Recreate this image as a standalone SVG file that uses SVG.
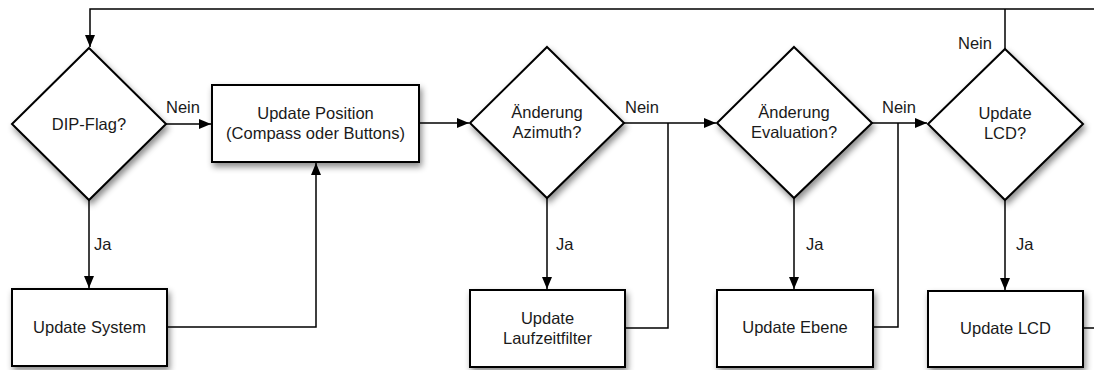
<svg xmlns="http://www.w3.org/2000/svg" width="1094" height="370" viewBox="0 0 1094 370">
  <defs>
    <filter id="shadow" x="-20%" y="-20%" width="150%" height="150%">
      <feDropShadow dx="2" dy="4" stdDeviation="3" flood-color="#000" flood-opacity="0.45"/>
    </filter>
    <marker id="arrow" viewBox="0 0 12 10" refX="12" refY="5" markerWidth="12" markerHeight="10" markerUnits="userSpaceOnUse" orient="auto">
      <path d="M0,0 L12,5 L0,10 Z" fill="#000"/>
    </marker>
  </defs>
  <style>
    .shape { fill: #fff; stroke: #000; stroke-width: 2; filter: url(#shadow); }
    .conn { fill: none; stroke: #000; stroke-width: 1.5; }
    .arr { marker-end: url(#arrow); }
    text { font-family: "Liberation Sans", Arial, sans-serif; font-size: 16.5px; fill: #1a1a1a; }
    .c { text-anchor: middle; }
  </style>
  <rect width="1094" height="370" fill="#fff"/>

  <!-- connectors -->
  <g id="connectors">
    <!-- loop back to start -->
    <path class="conn arr" d="M1094,9 H90 V47"/>
    <path class="conn" d="M1005,49 V9"/>
    <path class="conn" d="M1083,328 H1094"/>
    <!-- DIP-Flag -->
    <path class="conn arr" d="M166,124 H211"/>
    <path class="conn arr" d="M89,200 V288"/>
    <path class="conn arr" d="M167,327 H316 V163"/>
    <!-- Position to Azimuth -->
    <path class="conn arr" d="M419,123 H469"/>
    <!-- Azimuth -->
    <path class="conn arr" d="M624,123 H716"/>
    <path class="conn arr" d="M547,198 V289"/>
    <path class="conn" d="M625,328 H668 V123"/>
    <!-- Evaluation -->
    <path class="conn arr" d="M872,123 H927"/>
    <path class="conn arr" d="M794,198 V289"/>
    <path class="conn" d="M873,327 H898 V123"/>
    <!-- LCD -->
    <path class="conn arr" d="M1005,200 V290"/>
  </g>

  <!-- edge labels -->
  <g id="labels">
    <text x="166" y="113">Nein</text>
    <text x="625" y="113">Nein</text>
    <text x="882" y="113">Nein</text>
    <text x="958" y="49">Nein</text>
    <text x="94" y="250">Ja</text>
    <text x="556" y="250">Ja</text>
    <text x="806" y="250">Ja</text>
    <text x="1016" y="250">Ja</text>
  </g>

  <g id="dip-flag">
    <polygon class="shape" points="89,48 166,124 89,200 12,124"/>
    <text class="c" x="89" y="130">DIP-Flag?</text>
  </g>

  <g id="update-position">
    <rect class="shape" x="212" y="85" width="207" height="77"/>
    <text class="c" x="315.5" y="119">Update Position</text>
    <text class="c" x="315.5" y="139">(Compass oder Buttons)</text>
  </g>

  <g id="aenderung-azimuth">
    <polygon class="shape" points="547,47 624,123 547,198 470,123"/>
    <text class="c" x="547" y="118">Änderung</text>
    <text class="c" x="547" y="138">Azimuth?</text>
  </g>

  <g id="aenderung-evaluation">
    <polygon class="shape" points="794,47 872,123 794,198 717,123"/>
    <text class="c" x="794" y="118">Änderung</text>
    <text class="c" x="794" y="138">Evaluation?</text>
  </g>

  <g id="update-lcd-decision">
    <polygon class="shape" points="1005,49 1083,124 1005,200 928,124"/>
    <text class="c" x="1005" y="119">Update</text>
    <text class="c" x="1005" y="139">LCD?</text>
  </g>

  <g id="update-system">
    <rect class="shape" x="12" y="289" width="155" height="77"/>
    <text class="c" x="89.5" y="333">Update System</text>
  </g>

  <g id="update-laufzeitfilter">
    <rect class="shape" x="470" y="290" width="155" height="77"/>
    <text class="c" x="547.5" y="324">Update</text>
    <text class="c" x="547.5" y="344">Laufzeitfilter</text>
  </g>

  <g id="update-ebene">
    <rect class="shape" x="717" y="290" width="156" height="77"/>
    <text class="c" x="795" y="333">Update Ebene</text>
  </g>

  <g id="update-lcd">
    <rect class="shape" x="928" y="291" width="155" height="76"/>
    <text class="c" x="1005.5" y="334">Update LCD</text>
  </g>
</svg>
